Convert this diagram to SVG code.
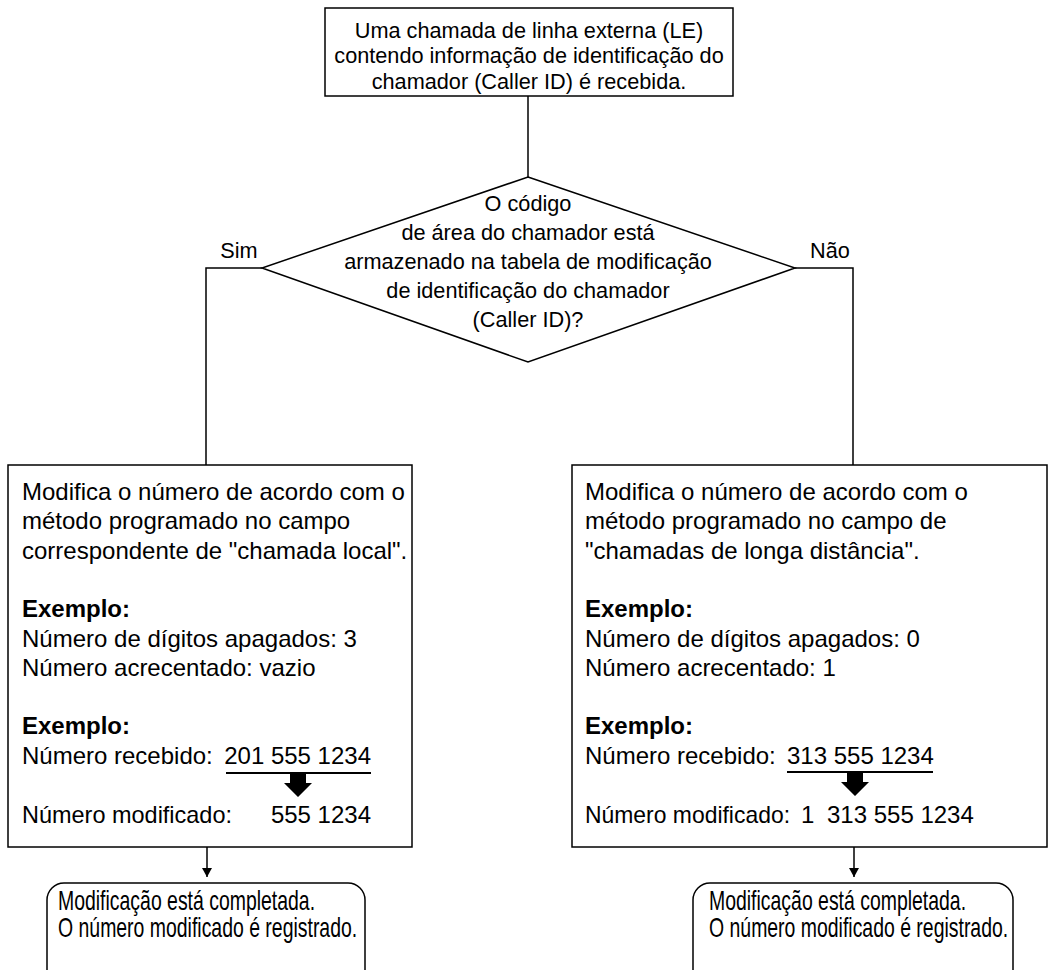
<svg xmlns="http://www.w3.org/2000/svg" width="1050" height="970" viewBox="0 0 1050 970">
<style>
.box{fill:#fff;stroke:#000;stroke-width:1.5}
.ln{fill:none;stroke:#000;stroke-width:1.5}
text{font-family:"Liberation Sans",Arial,Helvetica,sans-serif;fill:#000}
.t22{font-size:21.7px}
.t24{font-size:24px}
.t27{font-size:27px}
.b{font-weight:bold}
.c{text-anchor:middle}
.e{text-anchor:end}
</style>
<defs>
<marker id="ah" markerWidth="10" markerHeight="10" refX="9" refY="5" orient="auto" markerUnits="userSpaceOnUse">
<path d="M0,0 L9,5 L0,10 Z" fill="#000"/>
</marker>
</defs>
<rect width="1050" height="970" fill="#fff"/>
<g id="connectors">
<line class="ln" x1="528" y1="96" x2="528" y2="177"/>
<polyline class="ln" points="262,268 206,268 206,465"/>
<polyline class="ln" points="795,268 853,268 853,465"/>
<line class="ln" x1="207" y1="847" x2="207" y2="877" marker-end="url(#ah)"/>
<line class="ln" x1="854" y1="847" x2="854" y2="877" marker-end="url(#ah)"/>
<text class="t22 c" x="239" y="258">Sim</text>
<text class="t22 c" x="830" y="258">Não</text>
</g>
<g id="start">
<rect class="box" x="325" y="8" width="408" height="88"/>
<text class="t22 c" x="529" y="38">Uma chamada de linha externa (LE)</text>
<text class="t22 c" x="529" y="63">contendo informação de identificação do</text>
<text class="t22 c" x="529" y="89">chamador (Caller ID) é recebida.</text>
</g>
<g id="decision">
<polygon class="box" points="528,177 795,268 528,362 262,268"/>
<text class="t22 c" x="528" y="211">O código</text>
<text class="t22 c" x="528" y="240">de área do chamador está</text>
<text class="t22 c" x="528" y="269">armazenado na tabela de modificação</text>
<text class="t22 c" x="528" y="298">de identificação do chamador</text>
<text class="t22 c" x="528" y="327">(Caller ID)?</text>
</g>
<g id="local">
<rect class="box" x="8" y="465" width="404" height="382"/>
<text class="t24" x="22" y="500">Modifica o número de acordo com o</text>
<text class="t24" x="22" y="529">método programado no campo</text>
<text class="t24" x="22" y="559">correspondente de "chamada local".</text>
<text class="t24 b" x="22" y="617">Exemplo:</text>
<text class="t24" x="22" y="647">Número de dígitos apagados: 3</text>
<text class="t24" x="22" y="676">Número acrecentado: vazio</text>
<text class="t24 b" x="22" y="734">Exemplo:</text>
<text class="t24" x="22" y="764">Número recebido:</text>
<text class="t24 e" x="371" y="764">201 555 1234</text>
<line x1="226" y1="773" x2="371" y2="773" stroke="#000" stroke-width="2"/>
<polygon points="290,774 306,774 306,783 312,783 298,797 284,783 290,783" fill="#000"/>
<text class="t24" x="22" y="823" textLength="210" lengthAdjust="spacingAndGlyphs">Número modificado:</text>
<text class="t24 e" x="371" y="823">555 1234</text>
</g>
<g id="longdistance">
<rect class="box" x="572" y="465" width="475" height="382"/>
<text class="t24" x="585" y="500">Modifica o número de acordo com o</text>
<text class="t24" x="585" y="529">método programado no campo de</text>
<text class="t24" x="585" y="559">"chamadas de longa distância".</text>
<text class="t24 b" x="585" y="617">Exemplo:</text>
<text class="t24" x="585" y="647">Número de dígitos apagados: 0</text>
<text class="t24" x="585" y="676">Número acrecentado: 1</text>
<text class="t24 b" x="585" y="734">Exemplo:</text>
<text class="t24" x="585" y="764">Número recebido:</text>
<text class="t24" x="787" y="764">313 555 1234</text>
<line x1="787" y1="772" x2="933" y2="772" stroke="#000" stroke-width="2"/>
<polygon points="847,773 863,773 863,782 869,782 855,796 841,782 847,782" fill="#000"/>
<text class="t24" x="585" y="823" textLength="205" lengthAdjust="spacingAndGlyphs">Número modificado:</text>
<text class="t24" x="801" y="823">1</text>
<text class="t24" x="827" y="823">313 555 1234</text>
</g>
<g id="end-local">
<rect class="box" x="47" y="883" width="318" height="110" rx="17"/>
<text class="t27" transform="translate(58,910) scale(0.72,1)">Modificação está completada.</text>
<text class="t27" transform="translate(58,937) scale(0.72,1)">O número modificado é registrado.</text>
</g>
<g id="end-longdistance">
<rect class="box" x="693" y="883" width="320" height="110" rx="17"/>
<text class="t27" transform="translate(709,910) scale(0.72,1)">Modificação está completada.</text>
<text class="t27" transform="translate(709,937) scale(0.72,1)">O número modificado é registrado.</text>
</g>
</svg>
